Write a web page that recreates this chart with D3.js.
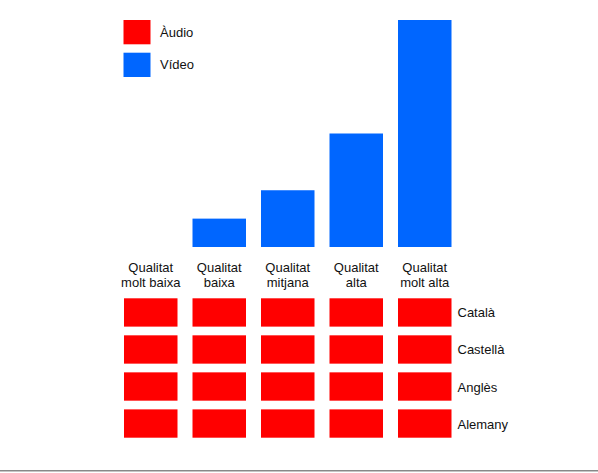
<!DOCTYPE html>
<html>
<head>
<meta charset="utf-8">
<script src="https://cdn.jsdelivr.net/npm/d3@7/dist/d3.min.js"></script>
<style>
  html, body { margin: 0; padding: 0; background: #fff; }
  svg { display: block; }
  text { font-family: "Liberation Sans", Arial, Helvetica, sans-serif; fill: #111; }
</style>
</head>
<body>
<script>
// Data
const qualities = ["Qualitat molt baixa", "Qualitat baixa", "Qualitat mitjana", "Qualitat alta", "Qualitat molt alta"];
const qualityLines = [["Qualitat", "molt baixa"], ["Qualitat", "baixa"], ["Qualitat", "mitjana"], ["Qualitat", "alta"], ["Qualitat", "molt alta"]];
const videoValues = [0, 1, 2, 4, 8];
const languages = ["Català", "Castellà", "Anglès", "Alemany"];
const audioAvailable = [
  [1, 1, 1, 1, 1],
  [1, 1, 1, 1, 1],
  [1, 1, 1, 1, 1],
  [1, 1, 1, 1, 1]
];
const legendLabels = ["Àudio", "Vídeo"];

const W = 598, H = 473;
const RED = "#ff0000", BLUE = "#0066ff";

const svg = d3.select("body").append("svg").attr("width", W).attr("height", H);

const x = d3.scaleBand().domain(qualities).range([124, 451.5]).paddingInner(0.219).paddingOuter(0);
const y = d3.scaleLinear().domain([0, 8]).range([247, 20]);
const rowScale = d3.scaleBand().domain(languages).range([298.3, 437.7]).paddingInner(0.235).paddingOuter(0);
const legendColor = d3.scaleOrdinal().domain(legendLabels).range([RED, BLUE]);

// Video bars
svg.append("g").selectAll("rect")
  .data(qualities.map((q, i) => ({ q, v: videoValues[i] })).filter(d => d.v > 0))
  .join("rect")
  .attr("x", d => x(d.q))
  .attr("y", d => y(d.v))
  .attr("width", x.bandwidth())
  .attr("height", d => y(0) - y(d.v))
  .attr("fill", BLUE);

// Column labels
const colLabels = svg.append("g").selectAll("text")
  .data(qualities.map((q, i) => ({ q, lines: qualityLines[i] })))
  .join("text")
  .attr("text-anchor", "middle")
  .attr("font-size", 13)
  .attr("x", d => x(d.q) + x.bandwidth() / 2)
  .attr("y", 272);
colLabels.selectAll("tspan")
  .data(d => d.lines.map(l => ({ l, cx: x(d.q) + x.bandwidth() / 2 })))
  .join("tspan")
  .attr("x", d => d.cx)
  .attr("dy", (d, i) => i === 0 ? 0 : 15)
  .text(d => d.l);

// Audio grid
const cells = [];
languages.forEach((lang, r) => qualities.forEach((q, c) => {
  if (audioAvailable[r][c]) cells.push({ lang, q });
}));
svg.append("g").selectAll("rect")
  .data(cells)
  .join("rect")
  .attr("x", d => x(d.q))
  .attr("y", d => rowScale(d.lang))
  .attr("width", x.bandwidth())
  .attr("height", rowScale.bandwidth())
  .attr("fill", RED);

// Row labels
svg.append("g").selectAll("text")
  .data(languages)
  .join("text")
  .attr("font-size", 13)
  .attr("x", 457.5)
  .attr("y", d => rowScale(d) + rowScale.bandwidth() / 2 + 5)
  .text(d => d);

// Legend
const leg = svg.append("g").selectAll("g")
  .data(legendLabels)
  .join("g")
  .attr("transform", (d, i) => `translate(123.5, ${20 + i * 32.7})`);
leg.append("rect").attr("width", 27).attr("height", 24.3).attr("fill", d => legendColor(d));
leg.append("text").attr("x", 36.5).attr("y", 16.7).attr("font-size", 13).text(d => d);

// Bottom rule
svg.append("rect").attr("x", 0).attr("y", 470).attr("width", W).attr("height", 1).attr("fill", "#888");
svg.append("rect").attr("x", 0).attr("y", 471).attr("width", W).attr("height", 1).attr("fill", "#c4c4c4");
</script>
</body>
</html>
